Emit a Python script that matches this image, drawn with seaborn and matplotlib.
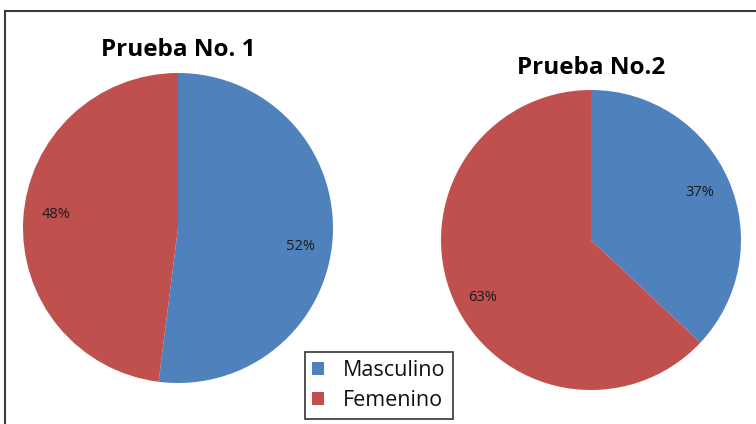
import matplotlib
matplotlib.use("Agg")
import matplotlib.pyplot as plt
from matplotlib.patches import Rectangle, Patch
import seaborn as sns

categories = ["Masculino", "Femenino"]
prueba1 = [52, 48]
prueba2 = [37, 63]
titles = ["Prueba No. 1", "Prueba No.2"]

sns.set_theme(style="white")
plt.rcParams["font.family"] = ["Open Sans", "DejaVu Sans"]
colors = sns.color_palette(["#4F81BD", "#C0504D"])

fig = plt.figure(figsize=(7.56, 4.24), dpi=100)

# outer frame (right and bottom edges run off the picture)
fig.patches.append(Rectangle((5 / 756, -0.1), 1.2, (424 - 11) / 424 + 0.1,
                             transform=fig.transFigure, fill=False,
                             edgecolor="#3a3a3a", linewidth=1.5))


def draw_pie(rect, values, title, title_y, shifts):
    ax = fig.add_axes(rect)
    _, _, autotexts = ax.pie(values, colors=colors, startangle=90, counterclock=False,
                             autopct=lambda p: f"{p:.0f}%", pctdistance=0.79,
                             textprops={"fontsize": 10.5, "color": "#1a1a1a"},
                             wedgeprops={"linewidth": 0})
    # nudge labels a little, as in the original
    for t, dy in zip(autotexts, shifts):
        x, y = t.get_position()
        t.set_position((x, y + dy))
    ax.set_xlim(-1, 1)
    ax.set_ylim(-1, 1)
    fig.text(rect[0] + rect[2] / 2, title_y, title, ha="center", va="center",
             fontsize=17.5, fontweight="bold", color="black")
    return ax


draw_pie([23 / 756, 41 / 424, 310 / 756, 310 / 424], prueba1, titles[0], 1 - 50 / 424,
         [-0.07, 0.04])
draw_pie([441 / 756, 34 / 424, 300 / 756, 300 / 424], prueba2, titles[1], 1 - 68 / 424,
         [0.0, -0.07])

handles = [Patch(facecolor=c, edgecolor="none") for c in colors]
leg = fig.legend(handles, categories, loc="center",
                 bbox_to_anchor=(379 / 756, 1 - 385.5 / 424),
                 frameon=True, fancybox=False, fontsize=15.5,
                 handlelength=0.55, handleheight=0.55, handletextpad=0.9,
                 borderpad=0.35, labelspacing=0.45, borderaxespad=0,
                 labelcolor="#111111")
leg.get_frame().set_edgecolor("black")
leg.get_frame().set_linewidth(1.2)

fig.savefig("out.png", dpi=100)
